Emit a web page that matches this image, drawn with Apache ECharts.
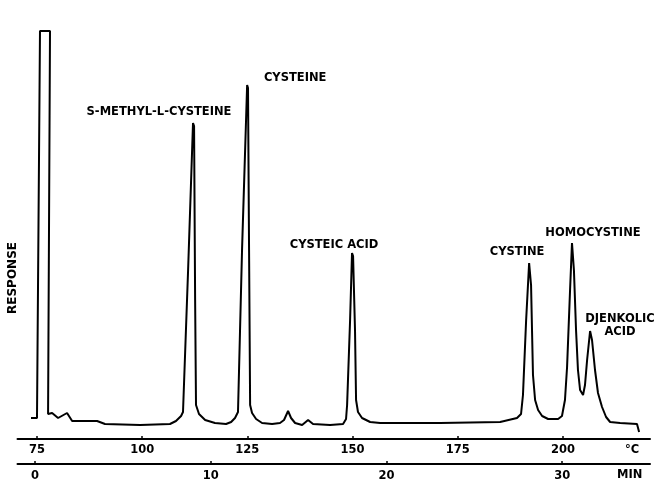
<!DOCTYPE html>
<html>
<head>
<meta charset="utf-8">
<script src="https://cdn.jsdelivr.net/npm/echarts@6/dist/echarts.min.js"></script>
<style>html,body{margin:0;padding:0;background:#fff}#c{width:660px;height:480px}</style>
</head>
<body>
<div id="c"></div>
<script>
// Elution time (min) of each trace point
const timeMin = [-0.23,0.11,0.28,0.85,0.74,0.97,1.31,1.82,2.11,3.53,3.98,5.98,7.68,8.02,8.31,8.42,8.71,8.99,9.05,9.11,9.16,9.33,9.68,10.24,10.87,11.16,11.38,11.55,11.78,12.07,12.12,12.18,12.24,12.35,12.58,12.92,13.49,13.94,14.17,14.40,14.57,14.80,15.20,15.54,15.82,16.79,17.53,17.70,17.76,17.93,18.04,18.10,18.21,18.27,18.38,18.61,19.07,19.64,23.05,26.47,27.43,27.66,27.77,27.95,28.12,28.23,28.34,28.46,28.63,28.86,29.20,29.77,29.99,30.16,30.28,30.45,30.56,30.67,30.79,30.90,31.02,31.19,31.30,31.42,31.59,31.70,31.87,32.04,32.27,32.50,32.73,33.30,34.26,34.38];
// Detector response (relative units)
const response = [3.0,3.0,99.75,99.75,4.0,4.25,3.0,4.25,2.25,2.25,1.5,1.25,1.5,2.25,3.5,4.5,40,76.75,76,32.5,6.25,4,2.5,1.75,1.5,2,3,4.5,45,86.25,85.5,45,6.25,4.25,2.75,1.75,1.5,1.75,2.5,4.75,3,1.75,1.25,2.5,1.5,1.25,1.5,2.75,6.25,27.5,44.25,43.5,25,7.5,4.5,3,2,1.75,1.75,2,3,4,8.75,27.5,41.75,36.25,13.75,7.5,5,3.5,2.75,2.75,3.5,7.5,15.75,35,46.75,40,25,15,10,8.75,11.25,17.5,24.75,22.5,15,9.25,5.75,3.25,2,1.75,1.5,-0.5];
// Peak names and apex positions (min, response)
const peakNames = ["S-METHYL-L-CYSTEINE","CYSTEINE","CYSTEIC ACID","CYSTINE","HOMOCYSTINE","DJENKOLIC\nACID"];
const peakTime = [8.99,12.07,18.04,28.12,30.56,31.70];
const peakResp = [76.75,86.25,44.25,41.75,46.75,24.75];
// Axis ticks
const tempTicks = [75,100,125,150,175,200];
const minTicks = [0,10,20,30];

const labelOffsets = [[-34,-11],[48,-7],[-18,-8],[-12,-11],[21,-10],[28,-5]];
const FONT = 'DejaVu Sans';

const trace = timeMin.map((t,i)=>[t,response[i]]);
const peakData = peakNames.map((n,i)=>({
  value:[peakTime[i],peakResp[i]], name:n,
  label:{offset:labelOffsets[i]}
}));

const chart = echarts.init(document.getElementById('c'), null, {renderer:'canvas'});
chart.setOption({
  animation:false,
  backgroundColor:'#fff',
  grid:{left:17.5,right:10,top:30,bottom:42,containLabel:false,outerBoundsMode:'none'},
  xAxis:[
    {type:'value',min:-1,max:35,position:'bottom',offset:26,
     axisLine:{onZero:false,lineStyle:{color:'#000',width:2}},
     axisTick:{show:true,length:3,inside:true,customValues:minTicks,lineStyle:{color:'#000',width:1.5}},
     axisLabel:{customValues:minTicks,color:'#000',fontFamily:FONT,fontWeight:'bold',fontSize:11.5,margin:6},
     splitLine:{show:false}},
    {type:'value',min:70.37,max:220.7,position:'bottom',offset:1,
     axisLine:{onZero:false,lineStyle:{color:'#000',width:2}},
     axisTick:{show:true,length:3,inside:true,customValues:tempTicks,lineStyle:{color:'#000',width:1.5}},
     axisLabel:{customValues:tempTicks,color:'#000',fontFamily:FONT,fontWeight:'bold',fontSize:11.5,margin:5},
     splitLine:{show:false}}
  ],
  yAxis:{type:'value',min:-2,max:100,show:false,splitLine:{show:false}},
  series:[
    {type:'line',xAxisIndex:0,data:trace,symbol:'none',smooth:false,clip:false,
     lineStyle:{color:'#000',width:2},z:3},
    {type:'scatter',xAxisIndex:0,data:peakData,symbolSize:0,silent:true,
     itemStyle:{opacity:1},
     label:{show:true,position:'inside',formatter:p=>p.name,color:'#000',opacity:1,
       fontFamily:FONT,fontWeight:'bold',fontSize:11.5,lineHeight:13,align:'center'}}
  ],
  graphic:[
    {type:'text',left:625,top:444,style:{text:'°C',fill:'#000',font:'bold 11.5px "DejaVu Sans"'}},
    {type:'text',left:617,top:469,style:{text:'MIN',fill:'#000',font:'bold 11.5px "DejaVu Sans"'}},
    {type:'text',x:13,y:278,rotation:Math.PI/2,style:{text:'RESPONSE',fill:'#000',font:'bold 12px "DejaVu Sans"',align:'center',verticalAlign:'middle'}}
  ]
});
</script>
</body>
</html>
